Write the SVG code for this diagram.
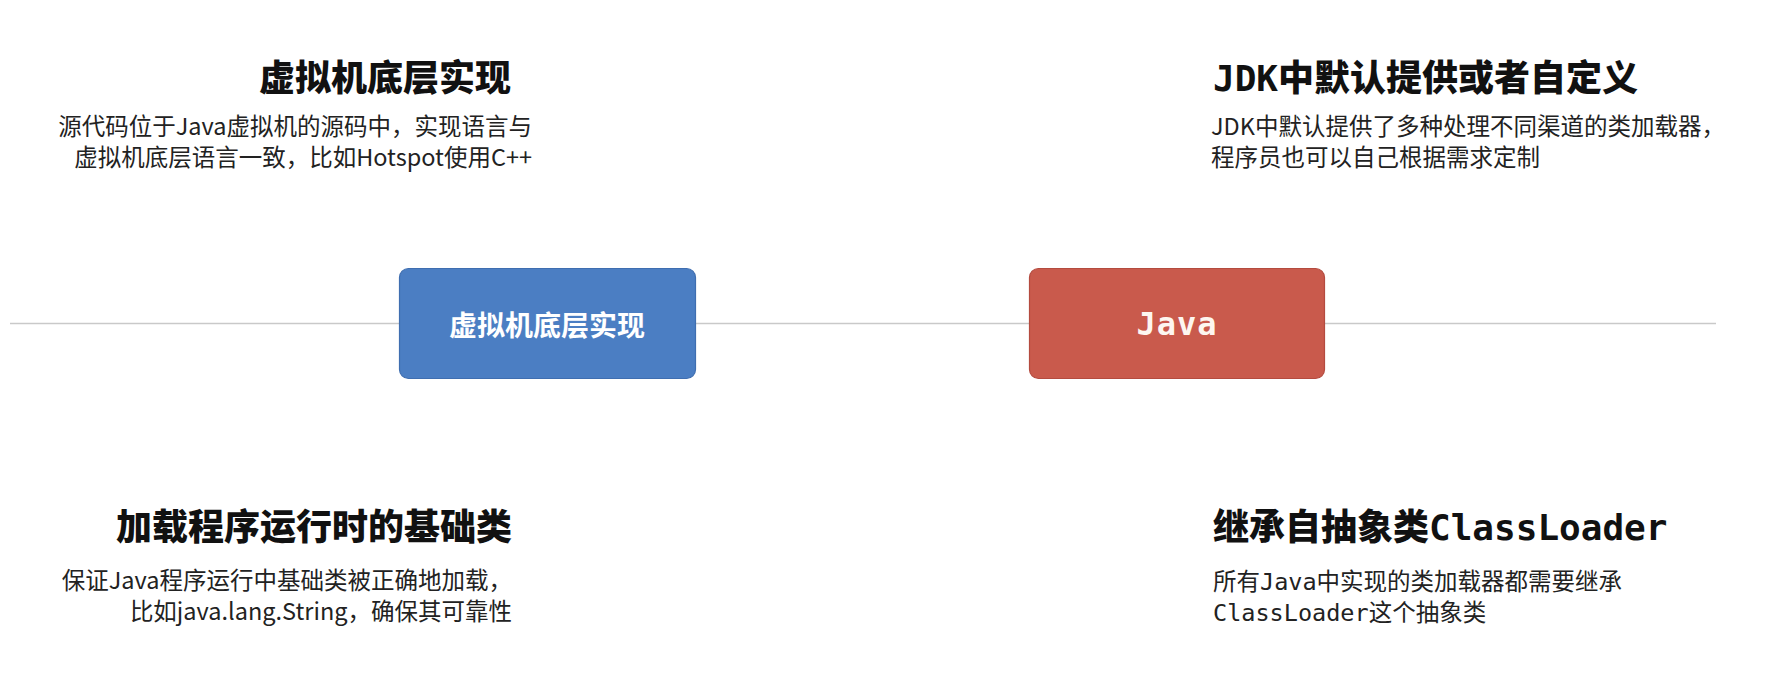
<svg xmlns="http://www.w3.org/2000/svg" width="1774" height="677" viewBox="0 0 1774 677">
<style>
.bg{fill:#ffffff}
.edge{stroke:#c9c9c9;stroke-width:1.6;fill:none}
.box-blue{fill:#4b7ec3;stroke:#3f6eb0;stroke-width:1.2}
.box-red{fill:#c95a4c;stroke:#b44b3f;stroke-width:1.2}
.boxlabel{fill:#ffffff;font-family:"Noto Sans CJK SC",sans-serif;font-weight:700;font-size:28px;text-anchor:middle}
.monolabel{fill:#fdf6f0;font-family:"DejaVu Sans Mono",monospace;font-weight:700;font-size:32px;text-anchor:middle;letter-spacing:1px}
.title{fill:#111111;font-family:"Noto Sans CJK SC",sans-serif;font-weight:900;font-size:36px}
.titlemono{fill:#111111;font-family:"DejaVu Sans Mono","Noto Sans CJK SC",monospace;font-weight:700;font-size:36px}
.desc{fill:#222222;font-family:"Noto Sans CJK SC",sans-serif;font-size:23.5px}
.descmono{fill:#222222;font-family:"DejaVu Sans Mono","Noto Sans CJK SC",monospace;font-size:23.5px}
.end{text-anchor:end}
</style>
<rect class="bg" x="0" y="0" width="1774" height="677"/>
<g id="connectors">
  <line class="edge" x1="10" y1="323.5" x2="399" y2="323.5"/>
  <line class="edge" x1="696" y1="323.5" x2="1029" y2="323.5"/>
  <line class="edge" x1="1325" y1="323.5" x2="1716" y2="323.5"/>
</g>
<g id="node-vm">
  <rect class="box-blue" x="399.5" y="268.5" width="296" height="110" rx="9" ry="9"/>
  <text class="boxlabel" x="547" y="336">虚拟机底层实现</text>
</g>
<g id="node-java">
  <rect class="box-red" x="1029.5" y="268.5" width="295" height="110" rx="9" ry="9"/>
  <text class="monolabel" x="1177" y="335">Java</text>
</g>
<g id="note-top-left">
  <text class="title end" x="511" y="91">虚拟机底层实现</text>
  <text class="desc end" x="532" y="135">源代码位于Java虚拟机的源码中，实现语言与</text>
  <text class="desc end" x="532" y="166">虚拟机底层语言一致，比如Hotspot使用C++</text>
</g>
<g id="note-top-right">
  <text class="title" x="1213" y="91"><tspan class="titlemono">JDK</tspan>中默认提供或者自定义</text>
  <text class="desc" x="1211" y="135">JDK中默认提供了多种处理不同渠道的类加载器，</text>
  <text class="desc" x="1211" y="166">程序员也可以自己根据需求定制</text>
</g>
<g id="note-bottom-left">
  <text class="title end" x="512" y="540">加载程序运行时的基础类</text>
  <text class="desc end" x="512" y="589">保证Java程序运行中基础类被正确地加载，</text>
  <text class="desc end" x="512" y="620">比如java.lang.String，确保其可靠性</text>
</g>
<g id="note-bottom-right">
  <text class="title" x="1213" y="540">继承自抽象类<tspan class="titlemono">ClassLoader</tspan></text>
  <text class="descmono" x="1213" y="590">所有Java中实现的类加载器都需要继承</text>
  <text class="descmono" x="1213" y="621">ClassLoader这个抽象类</text>
</g>
</svg>
